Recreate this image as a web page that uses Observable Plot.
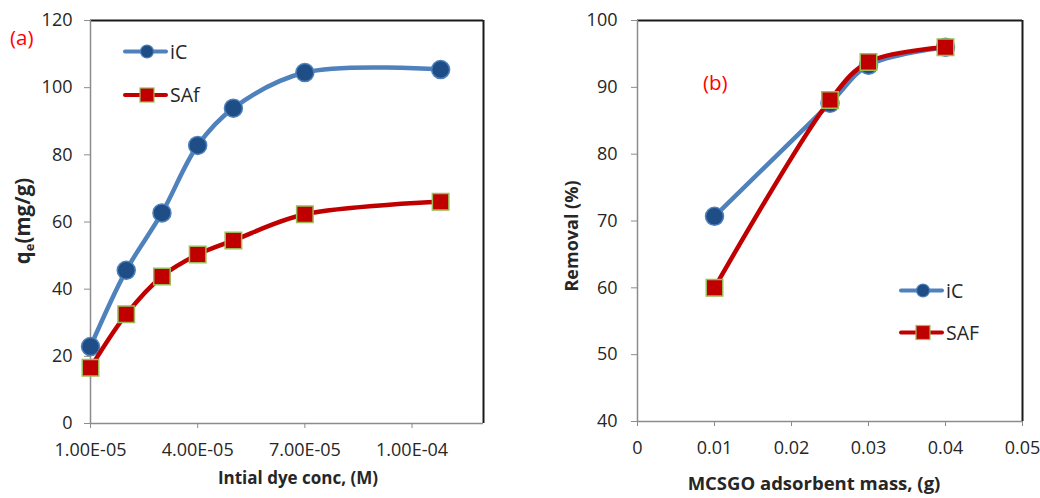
<!DOCTYPE html>
<html><head><meta charset="utf-8">
<script src="https://cdn.jsdelivr.net/npm/d3@7"></script>
<script src="https://cdn.jsdelivr.net/npm/@observablehq/plot@0.6"></script>
<style>
body{margin:0;background:#fff;font-family:"Open Sans",sans-serif;}
#wrap{position:relative;width:1040px;height:498px;overflow:hidden;background:#fff;}
.panel{position:absolute;top:0;}
</style></head><body><div id="wrap"></div>
<script>
// Panel (a)
const concA = [1e-5, 2e-5, 3e-5, 4e-5, 5e-5, 7e-5, 1.08e-4];
const iC_A = [22.9, 45.6, 62.7, 82.8, 93.9, 104.5, 105.4];
const SAf_A = [16.6, 32.5, 43.8, 50.3, 54.5, 62.3, 66.0];
const xTicksA = [1e-5, 4e-5, 7e-5, 1e-4];
const xTickLabelsA = ["1.00E-05", "4.00E-05", "7.00E-05", "1.00E-04"];
const yTicksA = [0, 20, 40, 60, 80, 100, 120];
// Panel (b)
const massB = [0.01, 0.025, 0.03, 0.04];
const iC_B = [70.7, 87.6, 93.3, 96.0];
const SAF_B = [60.0, 88.1, 93.8, 96.0];
const xTicksB = [0, 0.01, 0.02, 0.03, 0.04, 0.05];
const xTickLabelsB = ["0", "0.01", "0.02", "0.03", "0.04", "0.05"];
const yTicksB = [40, 50, 60, 70, 80, 90, 100];

const BLUE = "#4F81BD", BLUE_DARK = "#1F4E86", RED = "#C00000", GREEN = "#9BBB59";
const AXIS = "#8C8C8C", TXT = "#262626";
const FONT = "'Open Sans', sans-serif";

function makePanel(opt) {
  const A = opt.x.map((x, i) => ({x, y: opt.s1[i]}));
  const B = opt.x.map((x, i) => ({x, y: opt.s2[i]}));
  const [x0, x1] = opt.xDomain, [y0, y1] = opt.yDomain;
  return Plot.plot({
    width: 520, height: 498,
    marginLeft: opt.ml, marginRight: opt.mr, marginTop: 20, marginBottom: opt.mb,
    style: {fontFamily: FONT, background: "transparent", overflow: "visible"},
    x: {domain: opt.xDomain},
    y: {domain: opt.yDomain},
    marks: [
      Plot.ruleY([y1], {stroke: "#1a1a1a", strokeWidth: 2}),
      Plot.ruleX([x1], {stroke: "#1a1a1a", strokeWidth: 2}),
      Plot.ruleX([x0], {stroke: AXIS, strokeWidth: 1.5}),
      Plot.ruleY([y0], {stroke: AXIS, strokeWidth: 1.5}),
      Plot.axisY(opt.yTicks, {tickSize: 6, tickPadding: opt.yPad, fontSize: 18, stroke: AXIS, fill: TXT, label: null}),
      Plot.axisX(opt.xTicks, {tickSize: 5, tickPadding: opt.xPad, fontSize: 18, stroke: AXIS, fill: TXT, label: null,
        tickFormat: d => opt.xLabels[opt.xTicks.indexOf(d)]}),
      Plot.line(A, {x: "x", y: "y", stroke: BLUE, strokeWidth: 4.5, curve: "catmull-rom"}),
      Plot.dot(A, {x: "x", y: "y", r: 9, fill: BLUE_DARK, stroke: BLUE, strokeWidth: 1.5}),
      Plot.line(B, {x: "x", y: "y", stroke: RED, strokeWidth: 4.5, curve: "catmull-rom"}),
      Plot.dot(B, {x: "x", y: "y", r: 9.3, symbol: "square", fill: RED, stroke: GREEN, strokeWidth: 1.5})
    ]
  });
}

function txt(sel, x, y, s, size, opts = {}) {
  const t = sel.append("text").attr("x", x).attr("y", y)
    .attr("text-anchor", opts.anchor || "start")
    .style("font-size", size + "px").style("font-family", FONT)
    .style("font-weight", opts.bold ? "bold" : "normal")
    .attr("fill", opts.fill || TXT);
  if (opts.dy) t.attr("dy", opts.dy);
  if (opts.transform) t.attr("transform", opts.transform);
  if (s != null) t.text(s);
  return t;
}

function legend(svg, x, y1, y2, n1, n2) {
  const g = svg.append("g");
  g.append("line").attr("x1", x - 22).attr("x2", x + 19).attr("y1", y1).attr("y2", y1)
    .attr("stroke", BLUE).attr("stroke-width", 4).attr("stroke-linecap", "round");
  g.append("circle").attr("cx", x).attr("cy", y1).attr("r", 6.5).attr("fill", BLUE_DARK).attr("stroke", BLUE).attr("stroke-width", 1.2);
  txt(g, x + 23, y1, n1, 19.5, {dy: "0.36em"});
  g.append("line").attr("x1", x - 22).attr("x2", x + 19).attr("y1", y2).attr("y2", y2)
    .attr("stroke", RED).attr("stroke-width", 4).attr("stroke-linecap", "round");
  g.append("rect").attr("x", x - 7).attr("y", y2 - 7).attr("width", 14).attr("height", 14).attr("fill", RED).attr("stroke", GREEN).attr("stroke-width", 1.2);
  txt(g, x + 23, y2, n2, 19.5, {dy: "0.36em"});
}

const wrap = d3.select("#wrap");

// ---- panel (a)
const pa = makePanel({x: concA, s1: iC_A, s2: SAf_A, xDomain: [1e-5, 1.2e-4], yDomain: [0, 120],
  xTicks: xTicksA, xLabels: xTickLabelsA, yTicks: yTicksA, ml: 90, mr: 37, mb: 75, yPad: 12, xPad: 15});
const da = wrap.append("div").attr("class", "panel").style("left", "0px");
da.node().appendChild(pa);
const sa = d3.select(pa);
txt(sa, 10, 45, "(a)", 20.5, {fill: "#FF0000"});
legend(sa, 147, 51.5, 95, "iC", "SAf");
const ta = txt(sa, 0, 0, null, 20.5, {anchor: "middle", bold: true, transform: "translate(30,221) rotate(-90)"});
ta.append("tspan").text("q");
ta.append("tspan").style("font-size", "13px").attr("dy", 4).text("e");
ta.append("tspan").attr("dy", -4).text("(mg/g)");
txt(sa, 298, 484, "Intial dye conc, (M)", 17, {anchor: "middle", bold: true});

// ---- panel (b)
const pb = makePanel({x: massB, s1: iC_B, s2: SAF_B, xDomain: [0, 0.05], yDomain: [40, 100],
  xTicks: xTicksB, xLabels: xTickLabelsB, yTicks: yTicksB, ml: 117, mr: 18, mb: 77, yPad: 14, xPad: 15});
const db = wrap.append("div").attr("class", "panel").style("left", "520px");
db.node().appendChild(pb);
const sb = d3.select(pb);
txt(sb, 183, 90, "(b)", 20.5, {fill: "#FF0000"});
legend(sb, 403, 290.5, 332.5, "iC", "SAF");
txt(sb, 0, 0, "Removal (%)", 18, {anchor: "middle", bold: true, transform: "translate(58,236) rotate(-90)"});
txt(sb, 294, 490, "MCSGO adsorbent mass, (g)", 18.5, {anchor: "middle", bold: true});
</script>
</body></html>
